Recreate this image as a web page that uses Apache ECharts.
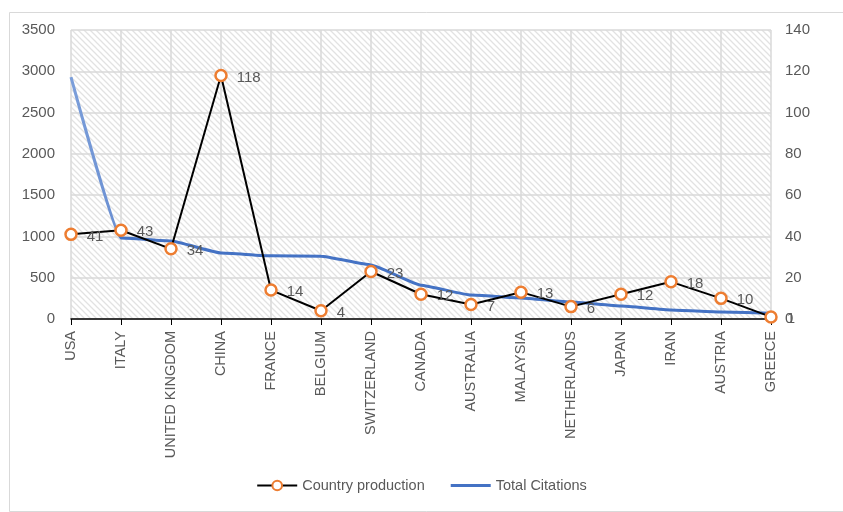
<!DOCTYPE html>
<html>
<head>
<meta charset="utf-8">
<script src="https://cdn.jsdelivr.net/npm/echarts@6/dist/echarts.min.js"></script>
<style>
html,body{margin:0;padding:0;background:#fff;}
#chart{width:843px;height:512px;}
</style>
</head>
<body>
<div id="chart"></div>
<script>
// Countries on the category axis
const countries = ['USA','ITALY','UNITED KINGDOM','CHINA','FRANCE','BELGIUM','SWITZERLAND','CANADA','AUSTRALIA','MALAYSIA','NETHERLANDS','JAPAN','IRAN','AUSTRIA','GREECE'];
// Number of documents per country (right axis)
const countryProduction = [41,43,34,118,14,4,23,12,7,13,6,12,18,10,1];
// Total citations per country (left axis)
const totalCitations = [2930,980,945,800,765,760,655,410,290,255,205,157,109,85,70];
// Axis ranges
const leftTicks = {min:0, max:3500, interval:500};
const rightTicks = {min:0, max:140, interval:20};

// Diagonal hatch used as the plot-area fill
function hatch(){
  const s = 6;
  const c = document.createElement('canvas');
  c.width = s; c.height = s;
  const g = c.getContext('2d');
  g.fillStyle = '#ffffff';
  g.fillRect(0,0,s,s);
  g.strokeStyle = '#e2e2e2';
  g.lineWidth = 1.3;
  g.beginPath();
  g.moveTo(-1,-1); g.lineTo(s+1,s+1);
  g.moveTo(-1,s-1); g.lineTo(1,s+1);
  g.moveTo(s-1,-1); g.lineTo(s+1,1);
  g.stroke();
  return c;
}

// First segment of the citations line is drawn in a lighter blue
const firstStop = 1 / (countries.length - 1);
const citationsColor = {
  type:'linear', x:0, y:0, x2:1, y2:0,
  colorStops:[
    {offset:0, color:'#7C9FDA'},
    {offset:firstStop - 0.002, color:'#6A8FD2'},
    {offset:firstStop + 0.002, color:'#4472C4'},
    {offset:1, color:'#4472C4'}
  ]
};

const textColor = '#595959';
const font = '"Liberation Sans", Arial, sans-serif';
const chart = echarts.init(document.getElementById('chart'), null, {renderer:'canvas'});

chart.setOption({
  animation:false,
  backgroundColor:'#ffffff',
  textStyle:{fontFamily:font},
  graphic:[{
    type:'rect', left:7, top:10, z:-10,
    shape:{width:845, height:499},
    style:{fill:'none', stroke:'#d9d9d9', lineWidth:1}
  }],
  grid:{
    left:71, right:72, top:30, bottom:193,
    show:true,
    borderWidth:0,
    backgroundColor:{image:hatch(), repeat:'repeat'}
  },
  legend:{
    bottom:14,
    left:'center',
    itemGap:26,
    itemWidth:40,
    itemHeight:12,
    textStyle:{color:textColor, fontSize:14.5, fontFamily:font},
    data:[
      {name:'Country production'},
      {name:'Total Citations', icon:'path://M0,0 L40,0 L40,3 L0,3 Z', itemStyle:{color:'#4472C4'}}
    ]
  },
  xAxis:{
    type:'category',
    data:countries,
    boundaryGap:false,
    axisLine:{lineStyle:{color:'#000000', width:1.5}},
    axisTick:{show:true, alignWithLabel:true, length:6, lineStyle:{color:'#000000'}},
    splitLine:{show:true, lineStyle:{color:'#d9d9d9', width:1.5}},
    axisLabel:{
      rotate:90, interval:0, margin:12,
      color:textColor, fontSize:14.5, fontFamily:font
    }
  },
  yAxis:[
    {
      type:'value', position:'left',
      min:leftTicks.min, max:leftTicks.max, interval:leftTicks.interval,
      axisLine:{show:false}, axisTick:{show:false},
      splitLine:{show:true, lineStyle:{color:'#d9d9d9', width:1.5}},
      axisLabel:{color:textColor, fontSize:15, margin:16, fontFamily:font, formatter:v => String(v)}
    },
    {
      type:'value', position:'right',
      min:rightTicks.min, max:rightTicks.max, interval:rightTicks.interval,
      axisLine:{show:false}, axisTick:{show:false},
      splitLine:{show:false},
      axisLabel:{color:textColor, fontSize:15, margin:14, fontFamily:font, formatter:v => String(v)}
    }
  ],
  series:[
    {
      name:'Total Citations',
      type:'line',
      yAxisIndex:0,
      data:totalCitations,
      smooth:0.12,
      smoothMonotone:'x',
      showSymbol:false,
      symbol:'none',
      lineStyle:{color:citationsColor, width:3},
      itemStyle:{color:'#4472C4'},
      z:2
    },
    {
      name:'Country production',
      type:'line',
      yAxisIndex:1,
      data:countryProduction,
      symbol:'circle',
      symbolSize:11,
      showSymbol:true,
      lineStyle:{color:'#000000', width:2},
      itemStyle:{color:'#ffffff', borderColor:'#ED7D31', borderWidth:2.5},
      label:{
        show:true, position:'right', distance:9,
        color:textColor, fontSize:15, fontFamily:font,
        offset:[0,2]
      },
      z:3
    }
  ]
});
</script>
</body>
</html>
